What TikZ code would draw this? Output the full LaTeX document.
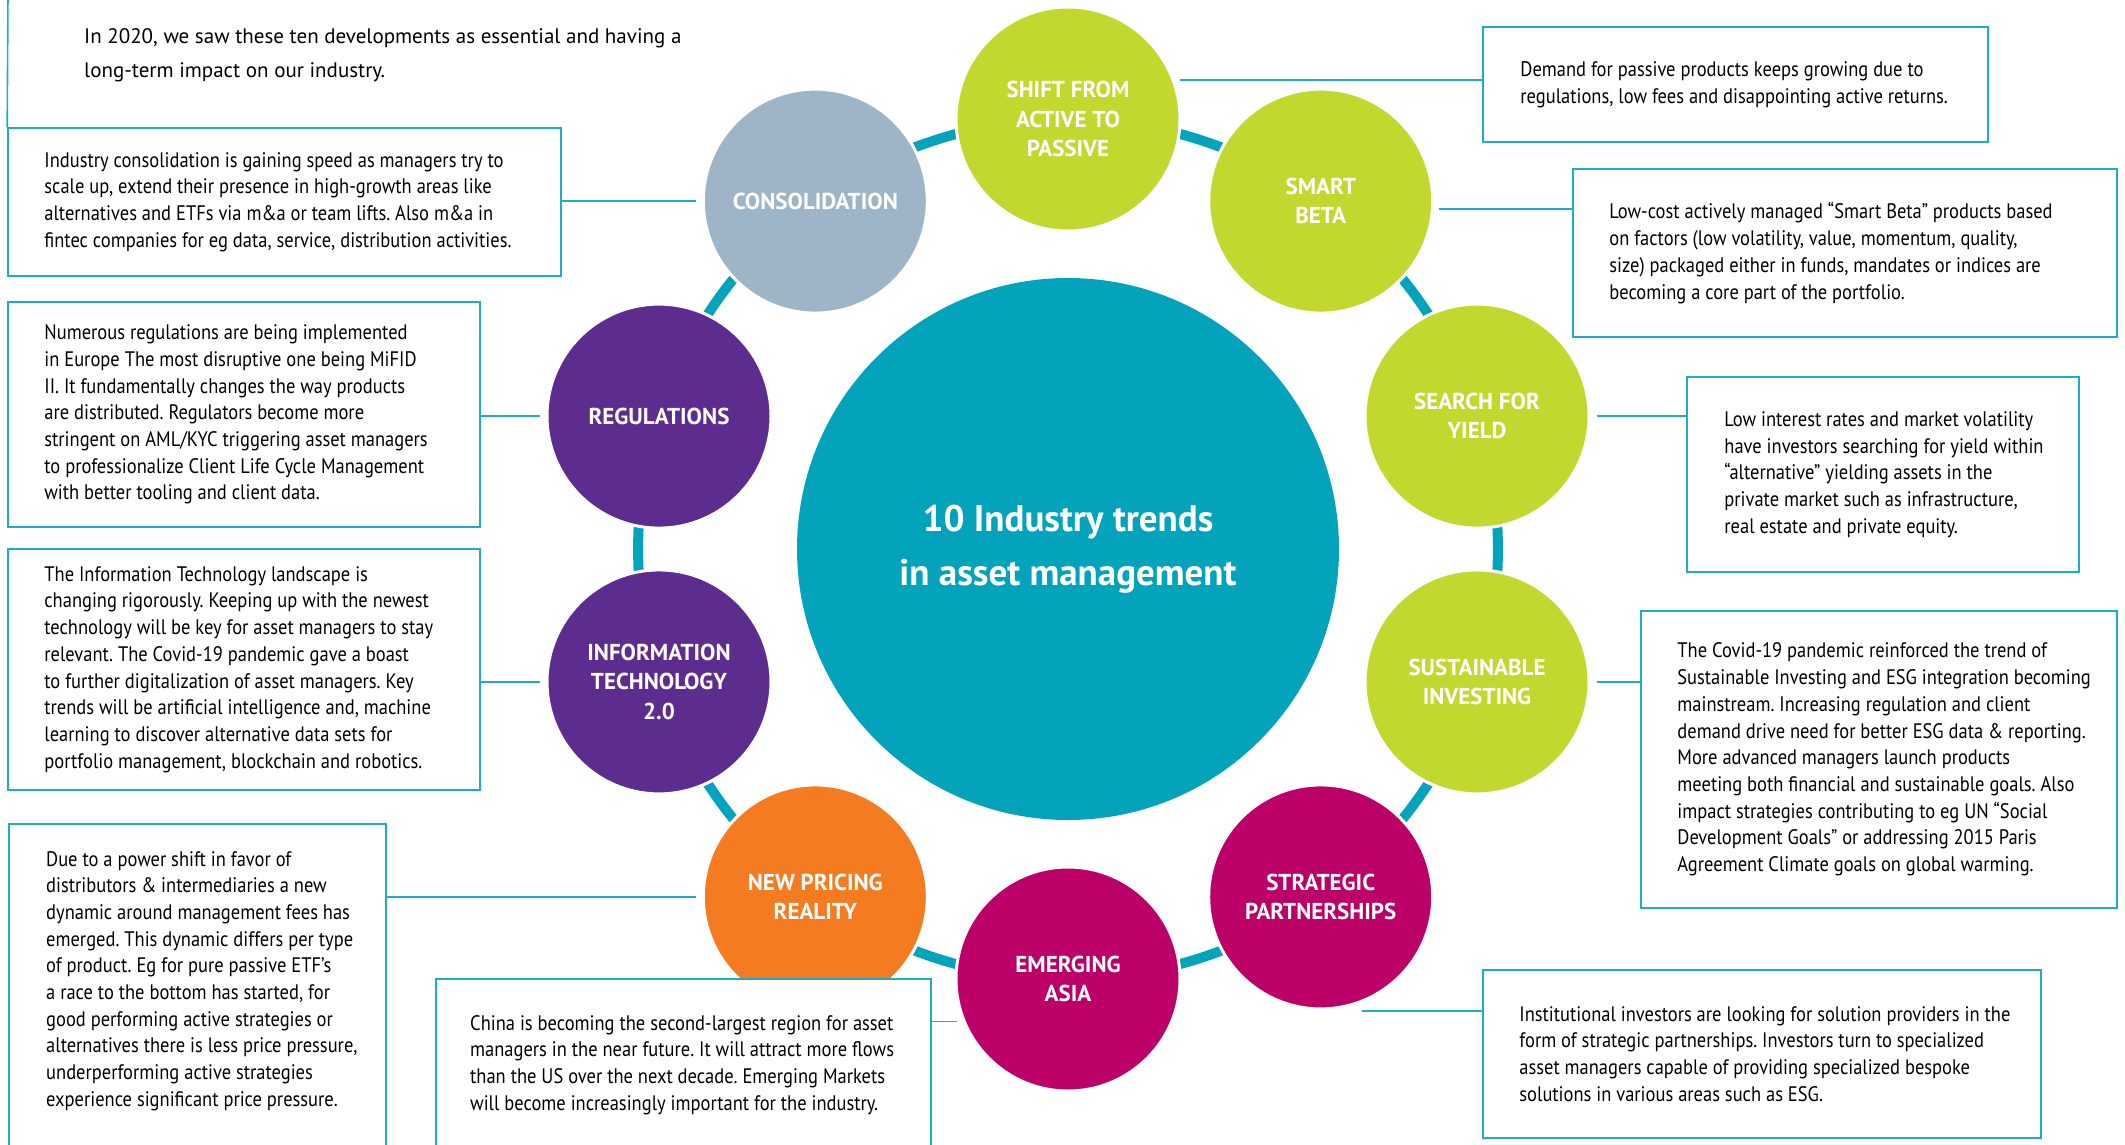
\documentclass[tikz,border=0pt]{standalone}
\usepackage{fontspec}
\setmainfont{PT Sans}
\newfontfamily\bodyfont[FakeStretch=0.88]{PT Sans}
\newcommand*{\bodytext}{\bodyfont\fontsize{21}{26.7}\selectfont}
\usetikzlibrary{positioning}

\definecolor{trendgreen}{HTML}{C2D82F}
\definecolor{trendgrey}{HTML}{9DB5C6}
\definecolor{trendpurple}{HTML}{5C2D8F}
\definecolor{trendorange}{HTML}{F47B20}
\definecolor{trendmagenta}{HTML}{BC0067}
\definecolor{trendteal}{HTML}{03A4BB}
\definecolor{boxline}{HTML}{1DAEC6}

\pgfdeclarelayer{ringlayer}
\pgfsetlayers{ringlayer,main}

\frenchspacing

\begin{document}
\begin{tikzpicture}[
    x=1pt, y=-1pt,
    trend/.style={
        circle, minimum size=224pt, inner sep=0pt,
        fill=#1, draw=white, line width=3pt,
        text=white, align=center,
        font=\fontsize{23}{29.5}\selectfont\bfseries
    },
    infobox/.style={draw=boxline, line width=1.6pt, fill=white},
    boxtext/.style={align=left, inner sep=0pt, font=\bodytext},
    link/.style={draw=boxline, line width=1.6pt},
    ringbar/.style={draw=trendteal, line width=10pt, bend left=18, looseness=.87}
]

    \useasboundingbox (0,0) rectangle (2125,1144);

    % Hub
    \node[
        circle,
        minimum size=542pt,
        inner sep=0pt,
        fill=trendteal,
        text=white,
        align=center,
        font=\fontsize{37}{54}\selectfont\bfseries
    ] (hub) at (1068,549) {10 Industry trends\\in asset management};

    % Trends on the ring
    \node[trend=trendgreen] (shift) at (1068,119) {SHIFT FROM\\ACTIVE TO\\PASSIVE};
    \node[trend=trendgreen] (smart) at (1320.7,201.1) {SMART\\BETA};
    \node[trend=trendgreen] (yield) at (1477,416.1) {SEARCH FOR\\YIELD};
    \node[trend=trendgreen] (sust) at (1477,681.9) {SUSTAINABLE\\INVESTING};
    \node[trend=trendmagenta] (strat) at (1320.7,896.9) {STRATEGIC\\PARTNERSHIPS};
    \node[trend=trendmagenta] (asia) at (1068,979) {EMERGING\\ASIA};
    \node[trend=trendorange] (pricing) at (815.3,896.9) {NEW PRICING\\REALITY};
    \node[trend=trendpurple] (itech) at (659,681.9) {INFORMATION\\TECHNOLOGY\\2.0};
    \node[trend=trendpurple] (reg) at (659,416.1) {REGULATIONS};
    \node[trend=trendgrey] (cons) at (815.3,201.1) {CONSOLIDATION};

    % Ring
    \begin{pgfonlayer}{ringlayer}
        \draw[ringbar] (shift.center) to (smart.center);
        \draw[ringbar] (smart.center) to (yield.center);
        \draw[ringbar] (yield.center) to (sust.center);
        \draw[ringbar] (sust.center) to (strat.center);
        \draw[ringbar] (strat.center) to (asia.center);
        \draw[ringbar] (asia.center) to (pricing.center);
        \draw[ringbar] (pricing.center) to (itech.center);
        \draw[ringbar] (itech.center) to (reg.center);
        \draw[ringbar] (reg.center) to (cons.center);
        \draw[ringbar] (cons.center) to (shift.center);
    \end{pgfonlayer}

    % Intro
    \node[
        anchor=west,
        align=left,
        inner sep=0pt,
        font=\fontsize{21}{34}\selectfont
    ] (intro) at (84,55) {In 2020, we saw these ten developments as essential and having a\\long-term impact on our industry.};

    % Boxes, left
    \node[infobox, minimum width=553pt, minimum height=148pt] (consbox) at (284.5,202) {};
    \node[boxtext, right=37pt of consbox.west] (constext) {Industry consolidation is gaining speed as managers try to\\scale up, extend their presence in high-growth areas like\\alternatives and ETFs via m\&a or team lifts. Also m\&a in\\fintec companies for eg data, service, distribution activities.};

    \node[infobox, minimum width=472pt, minimum height=225pt] (regbox) at (244,414.5) {};
    \node[boxtext, right=37pt of regbox.west] (regtext) {Numerous regulations are being implemented\\in Europe The most disruptive one being MiFID\\II. It fundamentally changes the way products\\are distributed. Regulators become more\\stringent on AML/KYC triggering asset managers\\to professionalize Client Life Cycle Management\\with better tooling and client data.};

    \node[infobox, minimum width=472pt, minimum height=241pt] (itbox) at (244,669.5) {};
    \node[boxtext, right=37pt of itbox.west] (ittext) {The Information Technology landscape is\\changing rigorously. Keeping up with the newest\\technology will be key for asset managers to stay\\relevant. The Covid-19 pandemic gave a boast\\to further digitalization of asset managers. Key\\trends will be artificial intelligence and, machine\\learning to discover alternative data sets for\\portfolio management, blockchain and robotics.};

    % Boxes, bottom (open below)
    \node[infobox, anchor=north west, minimum width=377pt, minimum height=400pt] (pricebox) at (8,823) {};
    \node[boxtext, below right=28pt and 38pt of pricebox.north west] (pricetext) {Due to a power shift in favor of\\distributors \& intermediaries a new\\dynamic around management fees has\\emerged. This dynamic differs per type\\of product. Eg for pure passive ETF’s\\a race to the bottom has started, for\\good performing active strategies or\\alternatives there is less price pressure,\\underperforming active strategies\\experience significant price pressure.};

    \node[infobox, anchor=north west, minimum width=495pt, minimum height=400pt] (asiabox) at (435,978) {};
    \node[boxtext, below right=37pt and 35pt of asiabox.north west] (asiatext) {China is becoming the second-largest region for asset\\managers in the near future. It will attract more flows\\than the US over the next decade. Emerging Markets\\will become increasingly important for the industry.};

    % Boxes, right
    \node[infobox, minimum width=505pt, minimum height=115pt] (shiftbox) at (1735.5,84.5) {};
    \node[boxtext, right=38pt of shiftbox.west] (shifttext) {Demand for passive products keeps growing due to\\regulations, low fees and disappointing active returns.};

    \node[infobox, minimum width=544pt, minimum height=168pt] (smartbox) at (1845,253) {};
    \node[boxtext, right=37pt of smartbox.west] (smarttext) {Low-cost actively managed “Smart Beta” products based\\on factors (low volatility, value, momentum, quality,\\size) packaged either in funds, mandates or indices are\\becoming a core part of the portfolio.};

    \node[infobox, minimum width=392pt, minimum height=195pt] (yieldbox) at (1883,474.5) {};
    \node[boxtext, right=38pt of yieldbox.west] (yieldtext) {Low interest rates and market volatility\\have investors searching for yield within\\“alternative” yielding assets in the\\private market such as infrastructure,\\real estate and private equity.};

    \node[infobox, minimum width=476pt, minimum height=297pt] (sustbox) at (1879,759.5) {};
    \node[boxtext, right=37pt of sustbox.west] (susttext) {The Covid-19 pandemic reinforced the trend of\\Sustainable Investing and ESG integration becoming\\mainstream. Increasing regulation and client\\demand drive need for better ESG data \& reporting.\\More advanced managers launch products\\meeting both financial and sustainable goals. Also\\impact strategies contributing to eg UN “Social\\Development Goals” or addressing 2015 Paris\\Agreement Climate goals on global warming.};

    \node[infobox, minimum width=558pt, minimum height=168pt] (stratbox) at (1762,1054) {};
    \node[boxtext, right=37pt of stratbox.west] (strattext) {Institutional investors are looking for solution providers in the\\form of strategic partnerships. Investors turn to specialized\\asset managers capable of providing specialized bespoke\\solutions in various areas such as ESG.};

    % Links
    \draw[link] (8,-5) -- (consbox.north west);
    \draw[link, shorten <=6pt] (cons.west) -- (cons.west -| consbox.east);
    \draw[link, shorten <=6pt] (reg.west) -- (reg.west -| regbox.east);
    \draw[link, shorten <=6pt] (itech.west) -- (itech.west -| itbox.east);
    \draw[link, shorten <=6pt] (pricing.west) -- (pricing.west -| pricebox.east);
    \draw[link, shorten <=6pt] (asia.202) -- (asia.202 -| asiabox.east);
    \draw[link, shorten <=5pt] (shift.20) -- (shift.20 -| shiftbox.west);
    \draw[link, shorten <=5pt] (smart.-4) -- (smart.-4 -| smartbox.west);
    \draw[link, shorten <=6pt] (yield.east) -- (yield.east -| yieldbox.west);
    \draw[link, shorten <=6pt] (sust.east) -- (sust.east -| sustbox.west);
    \coordinate (stratend) at (1362,1011);
    \draw[link] (stratend) -- (stratend -| stratbox.west);

\end{tikzpicture}
\end{document}
